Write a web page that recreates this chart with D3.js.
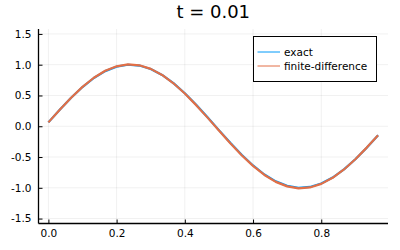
<!DOCTYPE html>
<html>
<head>
<meta charset="utf-8">
<script src="https://cdn.jsdelivr.net/npm/d3@7"></script>
<style>
  body { margin: 0; background: #fff; }
  text { font-family: "DejaVu Sans", sans-serif; }
</style>
</head>
<body>
<svg id="chart" width="400" height="250"></svg>
<script>
// grid points x = i/30
const xs = d3.range(30).map((i) => i / 30);

const exact = [
  0.063, 0.269, 0.463, 0.637, 0.784, 0.896, 0.968, 0.999, 0.986, 0.930,
  0.834, 0.700, 0.536, 0.348, 0.146, -0.063, -0.269, -0.463, -0.637, -0.784,
  -0.896, -0.968, -0.999, -0.986, -0.930, -0.834, -0.700, -0.536, -0.348, -0.146
];

const finiteDiff = [
  0.063, 0.268, 0.464, 0.640, 0.788, 0.901, 0.974, 1.004, 0.990, 0.932,
  0.834, 0.698, 0.532, 0.343, 0.140, -0.070, -0.276, -0.470, -0.644, -0.791,
  -0.904, -0.977, -1.008, -0.994, -0.936, -0.838, -0.702, -0.536, -0.347, -0.146
];

const xTicks = [0, 0.2, 0.4, 0.6, 0.8];
const yTicks = [-1.5, -1.0, -0.5, 0, 0.5, 1.0, 1.5];
const series = [
  { name: "exact", values: exact, color: "#009AFA" },
  { name: "finite-difference", values: finiteDiff, color: "#E26F46" }
];
const title = "t = 0.01";

const svg = d3.select("#chart");
const plotLeft = 38.5, plotRight = 388, plotTop = 29, plotBottom = 223.5;

const x = d3.scaleLinear().domain([-0.029, 0.9957]).range([plotLeft, plotRight]);
const y = d3.scaleLinear().domain([-1.58, 1.58]).range([plotBottom, plotTop]);

// grid lines
svg.append("g")
  .selectAll("line")
  .data(xTicks)
  .join("line")
  .attr("x1", (d) => x(d)).attr("x2", (d) => x(d))
  .attr("y1", plotTop).attr("y2", plotBottom)
  .attr("stroke", "#000").attr("stroke-opacity", 0.1).attr("stroke-width", 0.6);

svg.append("g")
  .selectAll("line")
  .data(yTicks)
  .join("line")
  .attr("x1", plotLeft).attr("x2", plotRight)
  .attr("y1", (d) => y(d)).attr("y2", (d) => y(d))
  .attr("stroke", "#000").attr("stroke-opacity", 0.1).attr("stroke-width", 0.6);

// axes
const xAxis = svg.append("g")
  .attr("transform", `translate(0,${plotBottom})`)
  .call(d3.axisBottom(x).tickValues(xTicks).tickFormat(d3.format(".1f"))
    .tickSizeInner(-4).tickSizeOuter(0).tickPadding(6));

const yAxis = svg.append("g")
  .attr("transform", `translate(${plotLeft},0)`)
  .call(d3.axisLeft(y).tickValues(yTicks).tickFormat(d3.format(".1f"))
    .tickSizeInner(-4).tickSizeOuter(0).tickPadding(7));

[xAxis, yAxis].forEach((a) => {
  a.select(".domain").attr("stroke", "#000").attr("stroke-width", 1.3);
  a.selectAll(".tick line").attr("stroke", "#000");
  a.selectAll(".tick text")
    .attr("fill", "#000")
    .style("font-size", "10.5px")
    .style("font-family", "DejaVu Sans, sans-serif");
});
yAxis.selectAll(".tick text").text((d) => d3.format(".1f")(d).replace("−", "-"));
xAxis.select(".domain").attr("d", `M${plotLeft},0H${plotRight}`);
yAxis.select(".domain").attr("d", `M0,${plotTop}V${plotBottom}`);

// lines
const line = d3.line()
  .x((d, i) => x(xs[i]))
  .y((d) => y(d));

svg.append("g")
  .selectAll("path")
  .data(series)
  .join("path")
  .attr("fill", "none")
  .attr("stroke", (d) => d.color)
  .attr("stroke-width", 2.2)
  .attr("stroke-linejoin", "round")
  .attr("d", (d) => line(d.values));

// legend
const legend = svg.append("g");
legend.append("rect")
  .attr("x", 253.5).attr("y", 36.5)
  .attr("width", 123).attr("height", 45)
  .attr("fill", "#fff").attr("stroke", "#000").attr("stroke-width", 1);

const item = legend.selectAll(".item")
  .data(series)
  .join("g")
  .attr("class", "item")
  .attr("transform", (d, i) => `translate(0,${52 + i * 14})`);

item.append("line")
  .attr("x1", 257.5).attr("x2", 280)
  .attr("stroke", (d) => d.color).attr("stroke-width", 1);

item.append("text")
  .attr("x", 284).attr("dy", "0.35em")
  .style("font-size", "10.5px")
  .text((d) => d.name);

// title
svg.append("text")
  .attr("x", (plotLeft + plotRight) / 2).attr("y", 18)
  .attr("text-anchor", "middle")
  .style("font-size", "18px")
  .text(title);
</script>
</body>
</html>
